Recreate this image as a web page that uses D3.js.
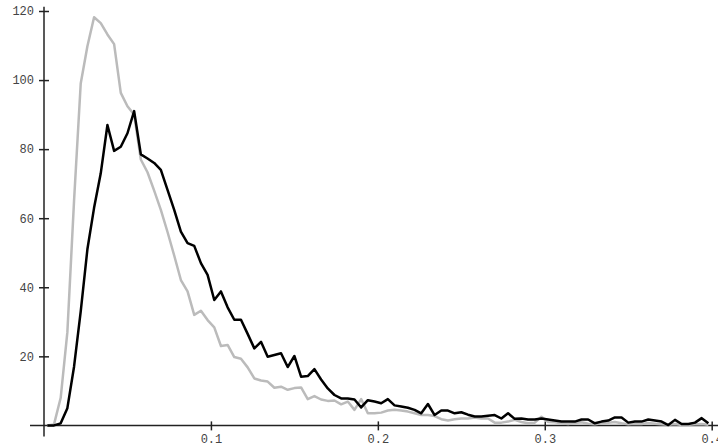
<!DOCTYPE html>
<html>
<head>
<meta charset="utf-8">
<script src="https://cdn.jsdelivr.net/npm/d3@7"></script>
<style>
  body { margin: 0; background: #fff; }
  svg { display: block; }
  .tick text { font-family: "Courier New", "Liberation Mono", monospace; font-size: 12px; fill: #444; }
</style>
</head>
<body>
<div id="chart"></div>
<script>
// --------------- Data ---------------
// bin centres: 0.002, 0.006, ... 0.398 (bin width 0.004)
const binStart = 0.002;
const binWidth = 0.004;

const blackSeries = [
  0, 0, 0.6, 5, 17, 33, 51, 63, 73, 87,
  79.5, 80.7, 84.6, 91, 78.5, 77.3, 76, 74, 68.2, 62.4,
  56.1, 52.8, 52, 47, 43.6, 36.3, 38.8, 34.2, 30.6, 30.6,
  26.5, 22.3, 24.2, 19.9, 20.4, 20.9, 16.9, 20.1, 14.1, 14.3,
  16.3, 13.3, 10.7, 8.8, 7.8, 7.8, 7.5, 5.2, 7.3, 6.9,
  6.4, 7.6, 5.8, 5.5, 5.1, 4.5, 3.5, 6.2, 3.0, 4.3,
  4.3, 3.5, 3.8, 3.1, 2.6, 2.6, 2.8, 3.0, 2.0, 3.5,
  1.9, 2.0, 1.7, 1.7, 2.0, 1.7, 1.4, 1.1, 1.1, 1.1,
  1.7, 1.7, 0.6, 1.1, 1.4, 2.3, 2.3, 0.8, 1.1, 1.1,
  1.7, 1.4, 1.1, 0.1, 1.6, 0.4, 0.4, 0.8, 2.1, 0.6
];

const graySeries = [
  0, 0.3, 8, 27, 65, 99, 109.8, 118.2, 116.5, 113.2,
  110.4, 96.3, 92.4, 90, 77, 73.3, 68, 62.4, 56, 49.2,
  42.1, 38.8, 32, 33.2, 30.5, 28.4, 23, 23.3, 19.8, 19.3,
  16.8, 13.6, 13, 12.7, 10.9, 11.2, 10.3, 10.8, 11, 7.6,
  8.5, 7.5, 7.1, 7.2, 6.1, 6.9, 4.5, 7.6, 3.5, 3.5,
  3.7, 4.3, 4.5, 4.3, 4.0, 3.5, 3.0, 3.0, 2.7, 1.8,
  1.4, 1.8, 2.0, 2.0, 2.3, 2.0, 2.0, 0.8, 0.8, 1.1,
  1.6, 1.0, 0.6, 0.8, 2.5, 1.0, 0.9, 0.6, 0.4, 0.7,
  0.9, 0.5, 0.3, 0.6, 0.8, 1.0, 0.6, 0.3, 0.5, 0.4,
  0.7, 0.5, 0.3, 0.2, 0.4, 0.1, 0.2, 0.3, 0.4, 0.2
];

const xTicks = [0.1, 0.2, 0.3, 0.4];
const yTicks = [20, 40, 60, 80, 100, 120];

// --------------- Setup ---------------
const WIDTH = 718;
const HEIGHT = 447;

const x = d3.scaleLinear().domain([0, 0.4]).range([44, 711.7]);
const y = d3.scaleLinear().domain([0, 120]).range([425.4, 11]);

const svg = d3
  .select("#chart")
  .append("svg")
  .attr("width", WIDTH)
  .attr("height", HEIGHT);

const toPoints = (series) => series.map((v, i) => [binStart + i * binWidth, v]);

const line = d3
  .line()
  .x((d) => x(d[0]))
  .y((d) => y(d[1]));

// --------------- Axes ---------------
// axis lines run a bit past the origin, as in the original
svg
  .append("line")
  .attr("x1", x(0))
  .attr("x2", x(0))
  .attr("y1", y(121.2))
  .attr("y2", y(0) + 11)
  .attr("stroke", "#222")
  .attr("stroke-width", 1.5);

svg
  .append("line")
  .attr("x1", x(0) - 14)
  .attr("x2", WIDTH + 5)
  .attr("y1", y(0))
  .attr("y2", y(0))
  .attr("stroke", "#222")
  .attr("stroke-width", 1.5);

const yAxis = svg
  .append("g")
  .attr("transform", `translate(${x(0)},0)`)
  .call(d3.axisLeft(y).tickValues(yTicks).tickSize(5).tickPadding(5));

yAxis.select(".domain").remove();
yAxis
  .selectAll(".tick line")
  .attr("x1", 5)
  .attr("x2", -5)
  .attr("stroke", "#222")
  .attr("stroke-width", 1.5);

const xAxis = svg
  .append("g")
  .attr("transform", `translate(0,${y(0)})`)
  .call(
    d3
      .axisBottom(x)
      .tickValues(xTicks)
      .tickSize(5)
      .tickFormat(d3.format(".1f"))
  );

xAxis.select(".domain").remove();
xAxis
  .selectAll(".tick line")
  .attr("y1", -4)
  .attr("y2", 5)
  .attr("stroke", "#222")
  .attr("stroke-width", 1.5);
xAxis.selectAll(".tick text").attr("y", 9).attr("dy", "0.71em");

// --------------- Lines ---------------
svg
  .append("path")
  .datum(toPoints(graySeries))
  .attr("d", line)
  .attr("fill", "none")
  .attr("stroke", "#bbbbbb")
  .attr("stroke-width", 2.5)
  .attr("stroke-linejoin", "round");

svg
  .append("path")
  .datum(toPoints(blackSeries))
  .attr("d", line)
  .attr("fill", "none")
  .attr("stroke", "#000")
  .attr("stroke-width", 2.5)
  .attr("stroke-linejoin", "round");
</script>
</body>
</html>
